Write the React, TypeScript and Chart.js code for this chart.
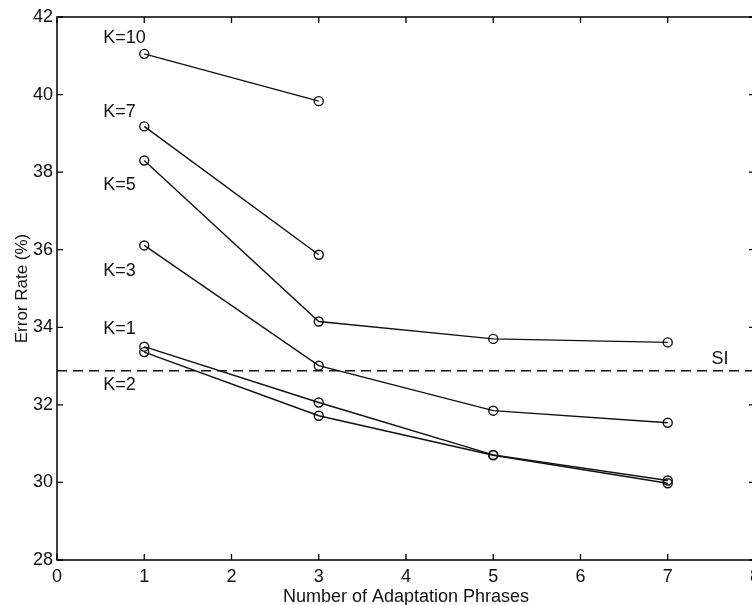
import React, { useEffect, useRef } from "react";
import { Chart, registerables } from "chart.js";

Chart.register(...registerables);

const phrases = [1, 3, 5, 7];
const k10 = [41.05, 39.83];
const k7 = [39.18, 35.87];
const k5 = [38.3, 34.15, 33.7, 33.61];
const k3 = [36.11, 33.01, 31.85, 31.54];
const k1 = [33.5, 32.06, 30.71, 30.05];
const k2 = [33.36, 31.72, 30.7, 29.98];
const siLevel = 32.88;
const xRange = [0, 8];
const yRange = [28, 42];

const seriesLabels = ["K=10", "K=7", "K=5", "K=3", "K=1", "K=2"];
const seriesValues = [k10, k7, k5, k3, k1, k2];
const labelX = [0.53, 0.53, 0.53, 0.53, 0.53, 0.53];
const labelY = [41.45, 39.55, 37.66, 35.45, 33.95, 32.52];
const siLabel = "SI";
const siLabelPos = [7.5, 33.17];

const FONT = "'Liberation Sans', Arial, Helvetica, sans-serif";
const INK = "#111";

const annotPlugin = {
  id: "annot",
  afterDraw(chart: any) {
    const { ctx, chartArea } = chart;
    const xs = chart.scales.x;
    const ys = chart.scales.y;
    ctx.save();
    // frame
    ctx.strokeStyle = "#000";
    ctx.lineWidth = 1.5;
    ctx.strokeRect(chartArea.left, chartArea.top, chartArea.right - chartArea.left, chartArea.bottom - chartArea.top);
    // inward ticks
    const tl = 6;
    ctx.lineWidth = 1.3;
    ctx.beginPath();
    xs.ticks.forEach((t: any) => {
      const px = xs.getPixelForValue(t.value);
      ctx.moveTo(px, chartArea.bottom);
      ctx.lineTo(px, chartArea.bottom - tl);
      ctx.moveTo(px, chartArea.top);
      ctx.lineTo(px, chartArea.top + tl);
    });
    ys.ticks.forEach((t: any) => {
      const py = ys.getPixelForValue(t.value);
      ctx.moveTo(chartArea.left, py);
      ctx.lineTo(chartArea.left + tl, py);
      ctx.moveTo(chartArea.right, py);
      ctx.lineTo(chartArea.right - tl, py);
    });
    ctx.stroke();
    // labels
    ctx.fillStyle = INK;
    ctx.font = `18px ${FONT}`;
    ctx.textAlign = "left";
    ctx.textBaseline = "middle";
    seriesLabels.forEach((lab, i) => {
      ctx.fillText(lab, xs.getPixelForValue(labelX[i]), ys.getPixelForValue(labelY[i]));
    });
    ctx.fillText(siLabel, xs.getPixelForValue(siLabelPos[0]), ys.getPixelForValue(siLabelPos[1]));
    ctx.restore();
  },
};

export default function App() {
  const ref = useRef<HTMLCanvasElement | null>(null);
  useEffect(() => {
    if (!ref.current) return;
    const datasets: any[] = seriesValues.map((vals, i) => ({
      label: seriesLabels[i],
      data: vals.map((v, j) => ({ x: phrases[j], y: v })),
      borderColor: INK,
      borderWidth: 1.4,
      backgroundColor: "rgba(0,0,0,0)",
      pointRadius: 4.5,
      pointBorderWidth: 1.4,
      pointBorderColor: INK,
      pointBackgroundColor: "rgba(0,0,0,0)",
      pointStyle: "circle",
      tension: 0,
      fill: false,
    }));
    datasets.push({
      label: siLabel,
      data: [
        { x: xRange[0], y: siLevel },
        { x: xRange[1], y: siLevel },
      ],
      borderColor: INK,
      borderWidth: 1.4,
      borderDash: [10, 6],
      pointRadius: 0,
      fill: false,
    });
    const chart = new Chart(ref.current, {
      type: "line",
      data: { datasets },
      options: {
        responsive: false,
        animation: false,
        layout: { padding: { top: 17, right: 15, bottom: 0, left: 0 } },
        plugins: { legend: { display: false }, tooltip: { enabled: false } },
        scales: {
          x: {
            type: "linear",
            min: xRange[0],
            max: xRange[1],
            afterFit: (s: any) => {
              s.height = 45;
            },
            ticks: {
              stepSize: 1,
              autoSkip: false,
              maxRotation: 0,
              padding: 6,
              color: INK,
              font: { family: FONT, size: 18 },
            },
            grid: { display: false, drawTicks: false },
            border: { display: false },
            title: {
              display: true,
              text: "Number of Adaptation Phrases",
              color: INK,
              font: { family: FONT, size: 18 },
              padding: { top: 0, bottom: -3 },
            },
          },
          y: {
            type: "linear",
            min: yRange[0],
            max: yRange[1],
            afterFit: (s: any) => {
              s.width = 57;
            },
            ticks: {
              stepSize: 2,
              autoSkip: false,
              padding: 4,
              color: INK,
              font: { family: FONT, size: 18 },
            },
            grid: { display: false, drawTicks: false },
            border: { display: false },
            title: {
              display: true,
              text: "Error Rate (%)",
              color: INK,
              font: { family: FONT, size: 17 },
              padding: { top: 12.5, bottom: 0 },
            },
          },
        },
      } as any,
      plugins: [annotPlugin],
    });
    return () => chart.destroy();
  }, []);
  return (
    <div
      style={{
        position: "fixed",
        left: 0,
        top: 0,
        width: 752,
        height: 605,
        overflow: "hidden",
        background: "#fff",
      }}
    >
      <canvas ref={ref} width={770} height={605} style={{ display: "block" }} />
    </div>
  );
}
